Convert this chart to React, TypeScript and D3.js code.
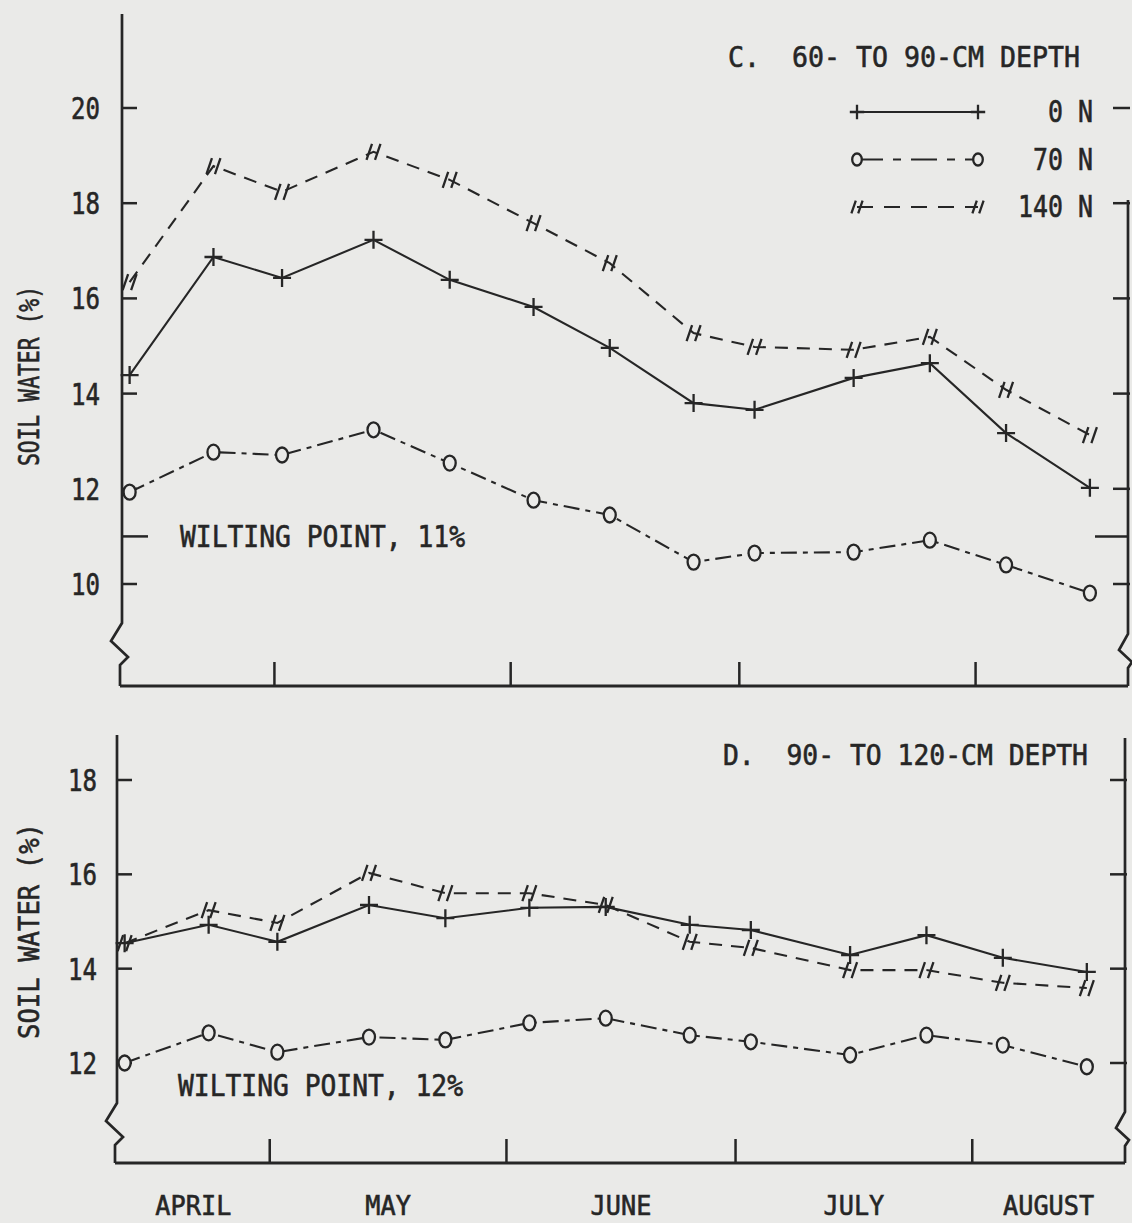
import React from "react";
import * as d3 from "d3";

// ---- data ----
const sampleDates = [
  "1975-04-12", "1975-04-23", "1975-05-02", "1975-05-14", "1975-05-24",
  "1975-06-04", "1975-06-14", "1975-06-25", "1975-07-03", "1975-07-16",
  "1975-07-26", "1975-08-05", "1975-08-16",
];
const seriesNames = ["0 N", "70 N", "140 N"];

// C. 60- to 90-cm depth
const c0N = [14.39, 16.87, 16.43, 17.23, 16.39, 15.82, 14.96, 13.8, 13.66, 14.33, 14.64, 13.17, 12.02];
const c70N = [11.93, 12.77, 12.71, 13.24, 12.54, 11.76, 11.45, 10.46, 10.65, 10.67, 10.92, 10.4, 9.81];
const c140N = [16.34, 18.78, 18.24, 19.08, 18.49, 17.58, 16.74, 15.27, 14.98, 14.92, 15.19, 14.08, 13.13];

// D. 90- to 120-cm depth
const d0N = [14.54, 14.93, 14.57, 15.35, 15.07, 15.29, 15.31, 14.93, 14.82, 14.29, 14.71, 14.23, 13.93];
const d70N = [12.0, 12.64, 12.23, 12.55, 12.49, 12.85, 12.95, 12.59, 12.45, 12.17, 12.59, 12.38, 11.92];
const d140N = [14.54, 15.24, 14.97, 16.03, 15.6, 15.6, 15.35, 14.57, 14.44, 13.97, 13.97, 13.7, 13.59];

const topTicks = [10, 12, 14, 16, 18, 20];
const botTicks = [12, 14, 16, 18];
const monthNames = ["APRIL", "MAY", "JUNE", "JULY", "AUGUST"];
const monthStarts = ["1975-05-01", "1975-06-01", "1975-07-01", "1975-08-01"];
const domainDates = ["1975-04-11", "1975-08-21"];

const titleC = "C.  60- TO 90-CM DEPTH";
const titleD = "D.  90- TO 120-CM DEPTH";
const wiltC = "WILTING POINT, 11%";
const wiltD = "WILTING POINT, 12%";
const wiltValC = 11;
const wiltValD = 12;
const yLabel = "SOIL WATER (%)";

// ---- style ----
const BG = "#eaeae8";
const INK = "#262626";
const FONT = "'DejaVu Sans Mono', 'Liberation Mono', monospace";
const parse = d3.timeParse("%Y-%m-%d");
const dates = sampleDates.map((d) => parse(d) as Date);
const domain = domainDates.map((d) => parse(d) as Date);

const styles = [
  { dash: undefined as string | undefined, marker: "plus" },
  { dash: "16 6 5 6", marker: "circle" },
  { dash: "13 9", marker: "slash" },
];

function Marker({ kind, x, y, small }: { kind: string; x: number; y: number; small?: boolean }) {
  const s = small ? 0.8 : 1;
  if (kind === "plus") {
    return <path d={`M${x - 9 * s},${y}H${x + 9 * s}M${x},${y - 9 * s}V${y + 9 * s}`} stroke={INK} strokeWidth={2.3} fill="none" />;
  }
  if (kind === "circle") {
    return <ellipse cx={x} cy={y} rx={6 * s} ry={7.5 * s} stroke={INK} strokeWidth={2.3} fill={BG} />;
  }
  return (
    <path
      d={`M${x - 7 * s},${y + 8 * s}L${x - 1.5 * s},${y - 8 * s}M${x + 1.5 * s},${y + 8 * s}L${x + 7 * s},${y - 8 * s}`}
      stroke={INK}
      strokeWidth={2.3}
      fill="none"
    />
  );
}

function Txt(props: any) {
  const { children, len, size = 30, ...rest } = props;
  return (
    <text
      fontFamily={FONT}
      fontSize={size}
      fill={INK}
      stroke={INK}
      strokeWidth={0.6}
      textLength={len}
      lengthAdjust="spacingAndGlyphs"
      style={{ whiteSpace: "pre" }}
      {...rest}
    >
      {children}
    </text>
  );
}

type PanelProps = {
  series: number[][];
  x0: number;
  x1: number;
  yDomain: [number, number];
  yRange: [number, number];
  ticks: number[];
  axisTop: number;
  axisBottom: number;
  rightTop: number;
  breakY: number;
  rightBreakY: number;
  tickLabelX: number;
  title: string;
  titleX: number;
  titleY: number;
  titleLen: number;
  wilt: string;
  wiltVal: number;
  wiltX: number;
  wiltY: number;
  wiltTicks: boolean;
  ylabelY: number;
  ylabelLen: number;
  legend?: boolean;
};

function Panel(p: PanelProps) {
  const x = d3.scaleTime().domain(domain).range([p.x0, p.x1]);
  const y = d3.scaleLinear().domain(p.yDomain).range(p.yRange);
  const line = d3
    .line<[Date, number]>()
    .x((d) => x(d[0]))
    .y((d) => y(d[1]));
  const yb = p.axisBottom;
  const L = p.x0;
  const R = p.x1;
  const bz = p.breakY;
  const rz = p.rightBreakY;
  const leftAxis = `M${L},${p.axisTop}V${bz}L${L - 11},${bz + 18}L${L + 6},${bz + 34}L${L - 2},${bz + 42}V${yb}`;
  const rightAxis = `M${R},${p.rightTop}V${rz}L${R - 9},${rz + 16}L${R + 4},${rz + 28}L${R},${rz + 34}V${yb}`;
  return (
    <g>
      {/* axes */}
      <path d={leftAxis} stroke={INK} strokeWidth={2.7} fill="none" />
      <path d={rightAxis} stroke={INK} strokeWidth={2.7} fill="none" />
      <line x1={L - 2} x2={R} y1={yb} y2={yb} stroke={INK} strokeWidth={2.9} />
      {monthStarts.map((m) => {
        const xm = x(parse(m) as Date);
        return <line key={m} x1={xm} x2={xm} y1={yb} y2={yb - 24} stroke={INK} strokeWidth={2.5} />;
      })}
      {p.ticks.map((t) => (
        <g key={t}>
          <line x1={L} x2={L + 15} y1={y(t)} y2={y(t)} stroke={INK} strokeWidth={2.5} />
          <line x1={R - 15} x2={R + 2} y1={y(t)} y2={y(t)} stroke={INK} strokeWidth={2.5} />
          <Txt x={p.tickLabelX} y={y(t) + 11} textAnchor="end" size={30} len={String(t).length * 14.5}>
            {String(t)}
          </Txt>
        </g>
      ))}
      {p.wiltTicks && (
        <g>
          <line x1={L} x2={L + 26} y1={y(p.wiltVal)} y2={y(p.wiltVal)} stroke={INK} strokeWidth={2.5} />
          <line x1={R - 33} x2={R} y1={y(p.wiltVal)} y2={y(p.wiltVal)} stroke={INK} strokeWidth={2.5} />
        </g>
      )}
      <Txt x={p.wiltX} y={p.wiltY} len={285}>
        {p.wilt}
      </Txt>
      <Txt x={p.titleX} y={p.titleY} len={p.titleLen} size={29}>
        {p.title}
      </Txt>
      <Txt
        transform={`translate(39,${p.ylabelY}) rotate(-90)`}
        x={0}
        y={0}
        textAnchor="middle"
        len={p.ylabelLen}
        size={29}
      >
        {yLabel}
      </Txt>
      {/* series */}
      {p.series.map((vals, i) => {
        const pts = dates.map((d, j) => [d, vals[j]] as [Date, number]);
        return (
          <g key={i}>
            <path d={line(pts) || ""} stroke={INK} strokeWidth={2.1} fill="none" strokeDasharray={styles[i].dash} />
            {pts.map((pt, j) => (
              <Marker key={j} kind={styles[i].marker} x={x(pt[0])} y={y(pt[1])} />
            ))}
          </g>
        );
      })}
      {p.legend &&
        seriesNames.map((n, i) => {
          const ly = 112 + i * 47.5;
          return (
            <g key={n}>
              <line x1={857} x2={978} y1={ly} y2={ly} stroke={INK} strokeWidth={2.1} strokeDasharray={i === 0 ? undefined : i === 1 ? "26 10 8 10" : "16 11"} />
              <Marker kind={styles[i].marker} x={857} y={ly} small />
              <Marker kind={styles[i].marker} x={978} y={ly} small />
              <Txt x={1093} y={ly + 10} textAnchor="end" len={n.length * 15}>
                {n}
              </Txt>
            </g>
          );
        })}
    </g>
  );
}

export default function App() {
  const xb = d3.scaleTime().domain(domain).range([117, 1125]);
  const bounds = [domain[0], ...monthStarts.map((m) => parse(m) as Date), domain[1]];
  return (
    <svg width={1132} height={1223} style={{ position: "absolute", left: 0, top: 0, display: "block" }}>
      <rect x={0} y={0} width={1132} height={1223} fill={BG} />
      <Panel
        series={[c0N, c70N, c140N]}
        x0={122}
        x1={1128}
        yDomain={[10, 20]}
        yRange={[584, 108]}
        ticks={topTicks}
        axisTop={14}
        axisBottom={686}
        rightTop={200}
        breakY={623}
        rightBreakY={634}
        tickLabelX={100}
        title={titleC}
        titleX={728}
        titleY={67}
        titleLen={352}
        wilt={wiltC}
        wiltVal={wiltValC}
        wiltX={180}
        wiltY={547}
        wiltTicks={true}
        ylabelY={376}
        ylabelLen={180}
        legend
      />
      <Panel
        series={[d0N, d70N, d140N]}
        x0={117}
        x1={1125}
        yDomain={[12, 18]}
        yRange={[1063, 780]}
        ticks={botTicks}
        axisTop={735}
        axisBottom={1163}
        rightTop={738}
        breakY={1103}
        rightBreakY={1112}
        tickLabelX={97}
        title={titleD}
        titleX={723}
        titleY={765}
        titleLen={365}
        wilt={wiltD}
        wiltVal={wiltValD}
        wiltX={178}
        wiltY={1096}
        wiltTicks={false}
        ylabelY={931}
        ylabelLen={216}
      />
      {monthNames.map((m, i) => (
        <Txt
          key={m}
          x={(xb(bounds[i]) + xb(bounds[i + 1])) / 2}
          y={1215}
          size={27}
          textAnchor="middle"
          len={m.length * 15.2}
        >
          {m}
        </Txt>
      ))}
    </svg>
  );
}
